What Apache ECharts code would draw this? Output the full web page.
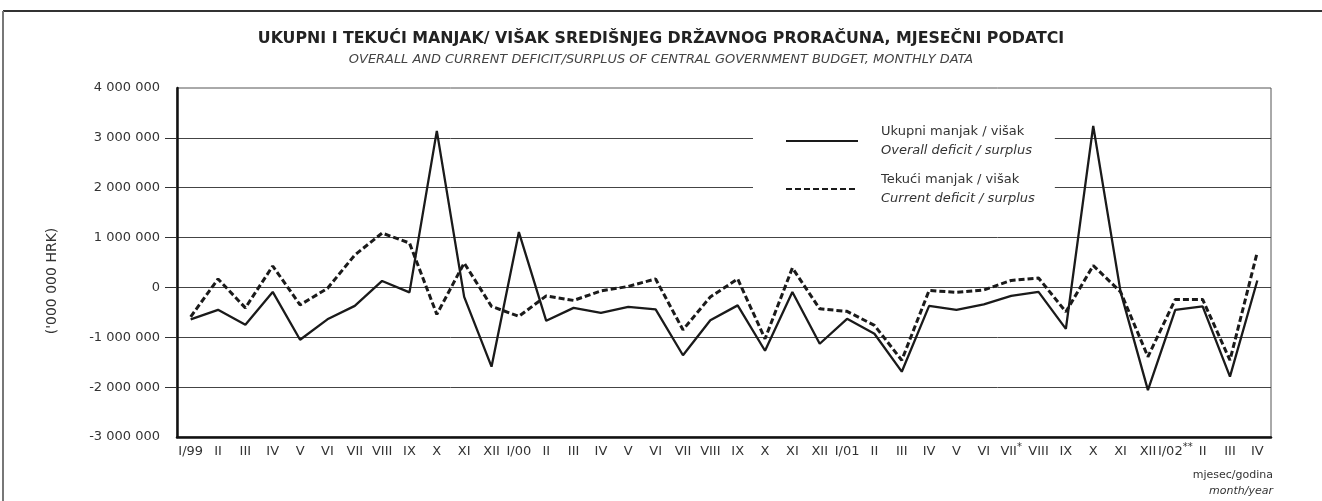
<!DOCTYPE html>
<html lang="hr">
<head>
    <meta charset="UTF-8">
    <title>Ukupni i tekući manjak / višak</title>
    <script src="https://cdn.jsdelivr.net/npm/echarts@6/dist/echarts.min.js"></script>
    <style>
        html, body { margin: 0; padding: 0; background: #fff; }
        #main { width: 1322px; height: 501px; }
    </style>
</head>
<body>
<div id="main"></div>
<script>
    // mjeseci I/99 - IV/02
    var months = ['I/99','II','III','IV','V','VI','VII','VIII','IX','X','XI','XII',
        'I/00','II','III','IV','V','VI','VII','VIII','IX','X','XI','XII',
        'I/01','II','III','IV','V','VI','VII*','VIII','IX','X','XI','XII',
        'I/02**','II','III','IV'];
    // ukupni manjak / višak ('000 000 HRK)
    var overall = [-640000,-450000,-750000,-90000,-1050000,-640000,-370000,130000,-100000,3140000,-190000,-1590000,
        1110000,-670000,-410000,-510000,-390000,-440000,-1360000,-660000,-360000,-1270000,-90000,-1130000,
        -630000,-930000,-1690000,-370000,-450000,-340000,-170000,-90000,-830000,3240000,-90000,-2060000,
        -450000,-380000,-1790000,140000];
    // tekući manjak / višak
    var current = [-590000,170000,-410000,430000,-350000,-20000,650000,1090000,890000,-540000,490000,-380000,
        -580000,-170000,-260000,-70000,20000,170000,-850000,-190000,170000,-1030000,390000,-430000,
        -480000,-760000,-1460000,-60000,-100000,-50000,140000,190000,-490000,440000,-90000,-1390000,
        -240000,-240000,-1460000,710000];
    var yTicks = [-2000000,-1000000,0,1000000,2000000,3000000];

    var font = 'DejaVu Sans';
    var txt = '#333';

    function fmt(v){
        var s = String(Math.abs(v)).replace(/\B(?=(\d{3})+(?!\d))/g, ' ');
        return v < 0 ? '-' + s : s;
    }

    var chart = echarts.init(document.getElementById('main'));
    chart.setOption({
        animation: false,
        backgroundColor: '#fff',
        title: {
            text: 'UKUPNI I TEKUĆI MANJAK/ VIŠAK SREDIŠNJEG DRŽAVNOG PRORAČUNA, MJESEČNI PODATCI',
            subtext: 'OVERALL AND CURRENT DEFICIT/SURPLUS OF CENTRAL GOVERNMENT BUDGET, MONTHLY DATA',
            left: 'center',
            top: 26,
            itemGap: 6,
            textStyle: { fontFamily: font, fontSize: 15.8, fontWeight: 'bold', color: '#222' },
            subtextStyle: { fontFamily: font, fontSize: 12.95, fontStyle: 'italic', color: '#444' }
        },
        legend: {
            orient: 'vertical',
            left: 753,
            top: 115,
            padding: [10, 20, 10, 32],
            backgroundColor: '#fff',
            itemWidth: 72,
            itemHeight: 14,
            itemGap: 16,
            itemStyle: { color: 'rgba(0,0,0,0)', borderColor: 'rgba(0,0,0,0)', borderWidth: 0 },
            data: ['Ukupni manjak / višak', 'Tekući manjak / višak'],
            formatter: function (name) {
                if (name === 'Ukupni manjak / višak') {
                    return '{a|Ukupni manjak / višak}\n{b|Overall deficit / surplus}';
                }
                return '{a|Tekući manjak / višak}\n{b|Current deficit / surplus}';
            },
            textStyle: {
                padding: [0, 0, 0, 18],
                rich: {
                    a: { fontFamily: font, fontSize: 13, lineHeight: 19, color: txt },
                    b: { fontFamily: font, fontSize: 13, lineHeight: 19, fontStyle: 'italic', color: txt }
                }
            }
        },
        grid: {
            left: 177, right: 51, top: 88, bottom: 64,
            show: true, borderColor: '#555', borderWidth: 1
        },
        xAxis: {
            type: 'category',
            data: months,
            boundaryGap: true,
            axisLine: { onZero: false, lineStyle: { color: '#111', width: 2.5 } },
            axisTick: { show: false },
            axisLabel: {
                interval: 0,
                margin: 5,
                lineHeight: 20,
                formatter: function (v) {
                    var m = v.match(/^(.*?)(\*+)$/);
                    if (m) return '{n|' + m[1] + '}{s|' + m[2] + '}';
                    return '{n|' + v + '}';
                },
                rich: {
                    n: { fontFamily: font, fontSize: 13, lineHeight: 20, color: txt },
                    s: { fontFamily: font, fontSize: 10, lineHeight: 10, verticalAlign: 'top', color: txt }
                }
            },
            splitLine: { show: false }
        },
        yAxis: {
            type: 'value',
            min: -3000000,
            max: 4000000,
            interval: 1000000,
            axisLine: { show: true, lineStyle: { color: '#111', width: 2.5 } },
            axisTick: { show: true, length: 12, customValues: yTicks, lineStyle: { color: '#333' } },
            axisLabel: { margin: 17, fontFamily: font, fontSize: 13, color: txt, formatter: fmt },
            splitLine: { show: true, lineStyle: { color: '#444', width: 1 } }
        },
        series: [
            {
                name: 'Ukupni manjak / višak',
                type: 'line',
                data: overall,
                symbol: 'none',
                itemStyle: { color: '#1a1a1a' },
                lineStyle: { color: '#1a1a1a', width: 2.3 }
            },
            {
                name: 'Tekući manjak / višak',
                type: 'line',
                data: current,
                symbol: 'none',
                itemStyle: { color: '#1a1a1a' },
                lineStyle: { color: '#1a1a1a', width: 3, type: [6, 3] }
            }
        ],
        graphic: [
            { type: 'line', shape: { x1: 3, y1: 11, x2: 1322, y2: 11 }, style: { stroke: '#333', lineWidth: 2 } },
            { type: 'line', shape: { x1: 3, y1: 11, x2: 3, y2: 501 }, style: { stroke: '#777', lineWidth: 2 } },
            {
                type: 'text', x: 52, y: 281, rotation: Math.PI / 2,
                style: { text: "('000 000 HRK)", font: '14px "DejaVu Sans"', fill: txt,
                    textAlign: 'center', textVerticalAlign: 'middle', align: 'center', verticalAlign: 'middle' }
            },
            {
                type: 'text', x: 1273, y: 475,
                style: { text: 'mjesec/godina', font: '11px "DejaVu Sans"', fill: txt,
                    textAlign: 'right', textVerticalAlign: 'middle', align: 'right', verticalAlign: 'middle' }
            },
            {
                type: 'text', x: 1273, y: 491,
                style: { text: 'month/year', font: 'italic 11px "DejaVu Sans"', fill: txt,
                    textAlign: 'right', textVerticalAlign: 'middle', align: 'right', verticalAlign: 'middle' }
            }
        ]
    });
</script>
</body>
</html>
